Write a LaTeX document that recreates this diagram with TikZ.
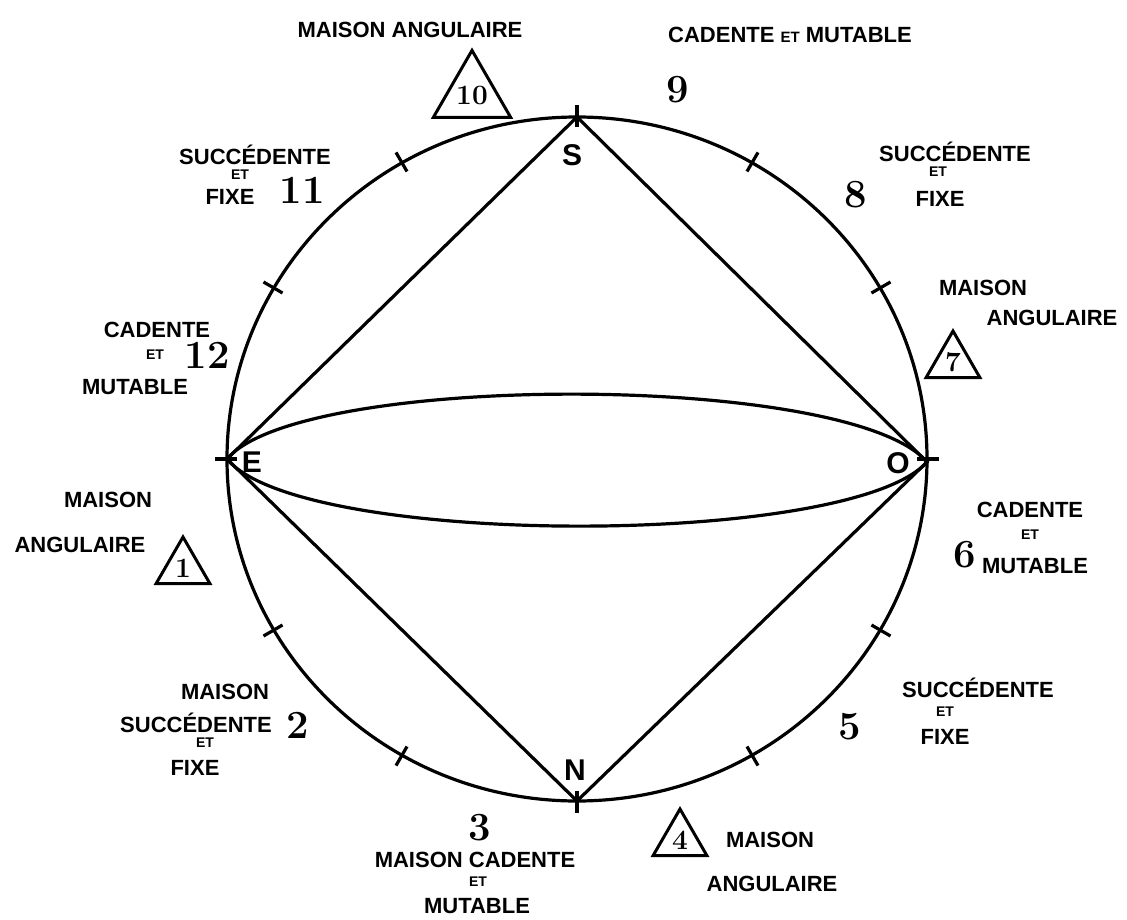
\documentclass[tikz,border=0pt]{standalone}
\usepackage{fontspec}
\setsansfont{Liberation Sans}
\usetikzlibrary{shapes.geometric,calc}
\begin{document}
\begin{tikzpicture}[x=1pt,y=-1pt,line width=3.2pt,
  lab/.style={font=\sffamily\bfseries\fontsize{22}{24}\selectfont,inner sep=0pt,align=center},
  sm/.style={font=\sffamily\bfseries\fontsize{14}{15}\selectfont,inner sep=0pt},
  num/.style={font=\bfseries\fontsize{40}{42}\selectfont,inner sep=0pt},
  pt/.style={font=\sffamily\bfseries\fontsize{30}{32}\selectfont,inner sep=0pt},
  tri/.style={regular polygon,regular polygon sides=3,draw,line width=3pt,minimum size=62pt,inner sep=0pt,font=\bfseries\fontsize{28}{30}\selectfont}]
\useasboundingbox (0,0) rectangle (1127,920);
\coordinate (C) at (577,459);
\draw (C) circle [x radius=350, y radius=342];
\foreach \a in {0,30,...,330}{
  \draw ($(C)+(\a:340 and -332)$) -- ($(C)+(\a:362 and -354)$);}
\coordinate (S) at (577,117);
\coordinate (O) at (927,462);
\coordinate (N) at (577,801);
\coordinate (E) at (227,459);
\draw (E) -- (S) -- (O) -- (N) -- cycle;
\draw (E) .. controls (300,372) and (850,372) .. (O) .. controls (850,548) and (300,548) .. (E);
\node[pt] (s) at (572,155) {S};
\node[pt] (o) at (898,463) {O};
\node[pt] (e) at (252,462) {E};
\node[pt] (n) at (575,770) {N};
% top
\node[lab] (t10a) at (410,30) {MAISON ANGULAIRE};
\node[tri] (t10) at (472,95) {10};
\node[lab] (t9a) at (790,35) {CADENTE {\fontsize{15}{15}\selectfont ET} MUTABLE};
\node[num] (n9) at (678,90) {9};
\node[lab] (t11a) at (255,155) {SUCCÉDENTE};
\node[sm] (t11b) at (240,175) {ET};
\node[lab] (t11c) at (230,197) {FIXE};
\node[num] (n11) at (302,190) {11};
\node[lab] (t8a) at (955,152) {SUCCÉDENTE};
\node[sm] (t8b) at (938,172) {ET};
\node[lab] (t8c) at (940,199) {FIXE};
\node[num] (n8) at (856,195) {8};
\node[lab] (t7a) at (983,288) {MAISON};
\node[lab] (t7b) at (1052,318) {ANGULAIRE};
\node[tri] (t7) at (953,362) {7};
\node[lab] (t12a) at (157,330) {CADENTE};
\node[sm] (t12b) at (155,355) {ET};
\node[lab] (t12c) at (135,387) {MUTABLE};
\node[num] (n12) at (207,355) {12};
% middle
\node[lab] (t1a) at (108,500) {MAISON};
\node[lab] (t1b) at (80,545) {ANGULAIRE};
\node[tri] (t1) at (183,568) {1};
\node[lab] (t6a) at (1030,510) {CADENTE};
\node[sm] (t6b) at (1030,535) {ET};
\node[lab] (t6c) at (1035,566) {MUTABLE};
\node[num] (n6) at (965,555) {6};
% bottom
\node[lab] (t2a) at (225,692) {MAISON};
\node[lab] (t2b) at (196,723) {SUCCÉDENTE};
\node[sm] (t2c) at (205,743) {ET};
\node[lab] (t2d) at (195,768) {FIXE};
\node[num] (n2) at (298,725) {2};
\node[lab] (t5a) at (978,688) {SUCCÉDENTE};
\node[sm] (t5b) at (945,712) {ET};
\node[lab] (t5c) at (945,737) {FIXE};
\node[num] (n5) at (850,727) {5};
\node[num] (n3) at (480,828) {3};
\node[lab] (t3a) at (475,860) {MAISON CADENTE};
\node[sm] (t3b) at (478,882) {ET};
\node[lab] (t3c) at (477,906) {MUTABLE};
\node[tri] (t4) at (680,840) {4};
\node[lab] (t4a) at (770,840) {MAISON};
\node[lab] (t4b) at (772,884) {ANGULAIRE};
\end{tikzpicture}
\end{document}
